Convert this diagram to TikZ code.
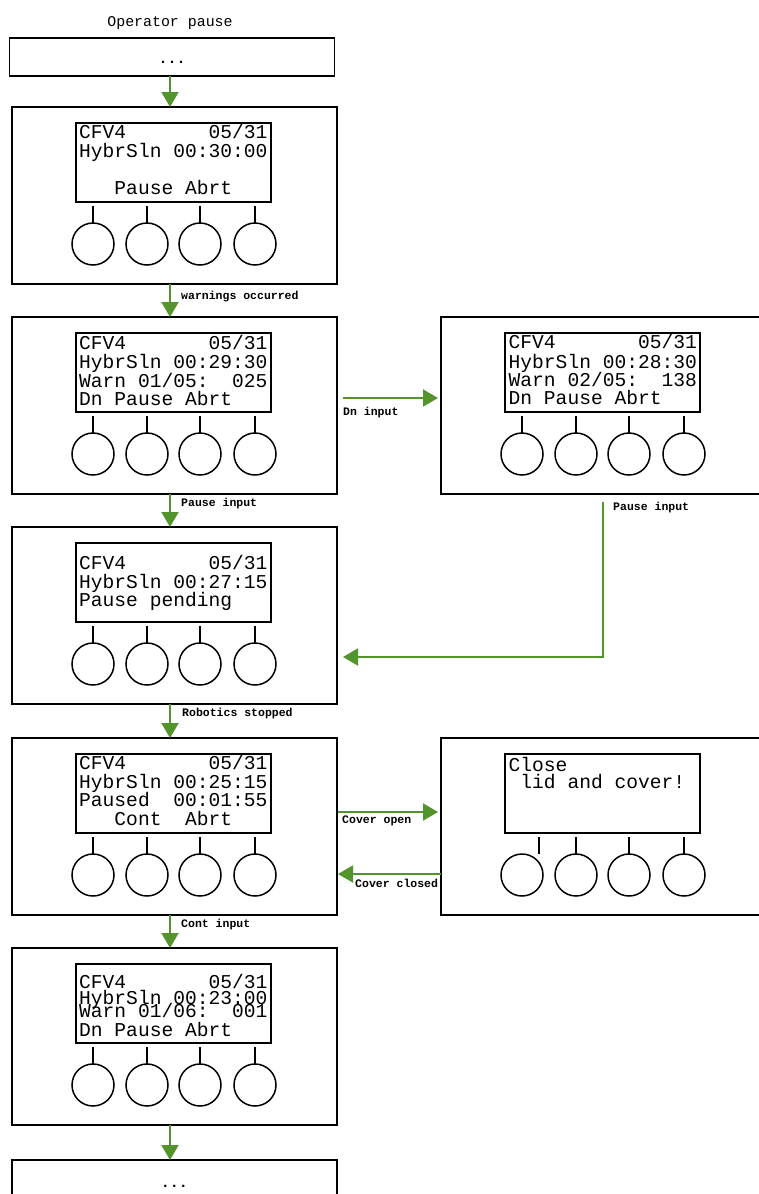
\documentclass[tikz,border=0pt]{standalone}
\usepackage{fontspec}
\setmonofont{Liberation Mono}
\usetikzlibrary{arrows.meta,calc,positioning}
\definecolor{flowgreen}{RGB}{84,148,44}

\begin{document}
\begin{tikzpicture}[x=1pt,y=-1pt,
  panel/.style={draw, line width=1.7pt, minimum width=325pt, minimum height=177pt, inner sep=0pt, outer sep=0pt, anchor=north west},
  endbox/.style={draw, line width=1.7pt, minimum width=325pt, minimum height=38pt, inner sep=0pt, outer sep=0pt, anchor=north west},
  lcd/.style={draw, line width=1.9pt, minimum width=195pt, minimum height=79pt, inner sep=0pt, outer sep=0pt, anchor=north west},
  button/.style={draw, circle, line width=1.5pt, minimum size=42pt, inner sep=0pt, outer sep=0pt},
  stem/.style={line width=1.5pt},
  lcdtext/.style={font=\ttfamily\fontsize{19.6}{19}\selectfont, inner sep=0pt, anchor=base west},
  flow/.style={draw=flowgreen, line width=2pt, -{Triangle[width=17pt,length=15pt]}},
  flowlabel/.style={font=\ttfamily\bfseries\fontsize{11.5}{12}\selectfont, inner sep=0pt, anchor=base west},
  dots/.style={font=\ttfamily\bfseries\fontsize{15}{15}\selectfont, inner sep=0pt}
]
\fill[white] (0,0) rectangle (759,1194);
\useasboundingbox (0,0) rectangle (759,1194);
\clip (0,0) rectangle (759,1194);

% title and the two open ends
\node[font=\ttfamily\fontsize{14.9}{15}\selectfont, inner sep=0pt, anchor=base] (title) at (170,26) {Operator pause};
\node[endbox] (top) at (9.5,38) {};
\node[dots] (top-dots) at ($(top.center)+(0,5)$) {...};
\node[endbox] (bottom) at (12,1160) {};
\node[dots] (bottom-dots) at ($(bottom.north)+(0,26)$) {...};

% panels: box, display, buttons
\foreach \pname/\px/\py/\sa in {p1/12/107/81, p2/12/317/81, q1/441/317/81, p3/12/527/81, p4/12/738/81, q2/441/738/98, p5/12/948/81} {
  \node[panel] (\pname) at (\px,\py) {};
  \node[lcd] (\pname-lcd) at ($(\pname.north west)+(64,16)$) {};
  \foreach \bx [count=\k] in {81,135,188,243}
    \node[button] (\pname-b\k) at ($(\pname.north west)+(\bx,137)$) {};
  \draw[stem] ($(\pname-b1.north)+({\sa-81},0)$) -- ++(0,-17);
  \foreach \k in {2,3,4}
    \draw[stem] (\pname-b\k.north) -- ++(0,-17);
}

% display texts
\node[lcdtext] (p1-t1) at ($(p1-lcd.north west)+(3,15)$) {CFV4~~~~~~~05/31};
\node[lcdtext] (p1-t2) at ($(p1-lcd.north west)+(3,34)$) {HybrSln~00:30:00};
\node[lcdtext] (p1-t4) at ($(p1-lcd.north west)+(3,71)$) {~~~Pause~Abrt};

\node[lcdtext] (p2-t1) at ($(p2-lcd.north west)+(3,16)$) {CFV4~~~~~~~05/31};
\node[lcdtext] (p2-t2) at ($(p2-lcd.north west)+(3,35.5)$) {HybrSln~00:29:30};
\node[lcdtext] (p2-t3) at ($(p2-lcd.north west)+(3,54)$) {Warn~01/05:~~025};
\node[lcdtext] (p2-t4) at ($(p2-lcd.north west)+(3,72.5)$) {Dn~Pause~Abrt};

\node[lcdtext] (q1-t1) at ($(q1-lcd.north west)+(3.5,15.5)$) {CFV4~~~~~~~05/31};
\node[lcdtext] (q1-t2) at ($(q1-lcd.north west)+(3.5,35)$) {HybrSln~00:28:30};
\node[lcdtext] (q1-t3) at ($(q1-lcd.north west)+(3.5,53.5)$) {Warn~02/05:~~138};
\node[lcdtext] (q1-t4) at ($(q1-lcd.north west)+(3.5,71.5)$) {Dn~Pause~Abrt};

\node[lcdtext] (p3-t1) at ($(p3-lcd.north west)+(3,26.5)$) {CFV4~~~~~~~05/31};
\node[lcdtext] (p3-t2) at ($(p3-lcd.north west)+(3,45.5)$) {HybrSln~00:27:15};
\node[lcdtext] (p3-t3) at ($(p3-lcd.north west)+(3,63.5)$) {Pause~pending};

\node[lcdtext] (p4-t1) at ($(p4-lcd.north west)+(3,15)$) {CFV4~~~~~~~05/31};
\node[lcdtext] (p4-t2) at ($(p4-lcd.north west)+(3,34)$) {HybrSln~00:25:15};
\node[lcdtext] (p4-t3) at ($(p4-lcd.north west)+(3,52)$) {Paused~~00:01:55};
\node[lcdtext] (p4-t4) at ($(p4-lcd.north west)+(3,71)$) {~~~Cont~~Abrt};

\node[lcdtext] (q2-t1) at ($(q2-lcd.north west)+(3.5,17)$) {Close};
\node[lcdtext] (q2-t2) at ($(q2-lcd.north west)+(3.5,34.5)$) {~lid~and~cover!};

\node[lcdtext] (p5-t1) at ($(p5-lcd.north west)+(3,24.5)$) {CFV4~~~~~~~05/31};
\node[lcdtext] (p5-t2) at ($(p5-lcd.north west)+(3,40.5)$) {HybrSln~00:23:00};
\node[lcdtext] (p5-t3) at ($(p5-lcd.north west)+(3,53)$) {Warn~01/06:~~001};
\node[lcdtext] (p5-t4) at ($(p5-lcd.north west)+(3,72)$) {Dn~Pause~Abrt};

% transitions
\draw[flow] ([xshift=-2pt]top.south) -- ([xshift=-4.5pt]p1.north);
\draw[flow] ([xshift=-4.5pt]p1.south) -- ([xshift=-4.5pt]p2.north);
\draw[flow] ([xshift=-4.5pt]p2.south) -- ([xshift=-4.5pt]p3.north);
\draw[flow] ([xshift=-4.5pt]p3.south) -- ([xshift=-4.5pt]p4.north);
\draw[flow] ([xshift=-4.5pt]p4.south) -- ([xshift=-4.5pt]p5.north);
\draw[flow] ([xshift=-4.5pt]p5.south) -- ([xshift=-4.5pt]bottom.north);
\draw[flow] ($(p2.north east)+(6,81)$) -- ($(q1.north west)+(-3,81)$);
\draw[flow] ($(q1.south west)+(162,8)$) |- ($(p3.north east)+(6,130)$);
\draw[flow] ($(p4.north east)+(1,74)$) -- ($(q2.north west)+(-3,74)$);
\draw[flow] ($(q2.north west)+(0,136)$) -- ($(p4.north east)+(1,136)$);

% transition labels
\node[flowlabel] (l-warn) at (181,299) {warnings occurred};
\node[flowlabel] (l-pause) at (181,506) {Pause input};
\node[flowlabel] (l-robot) at (182,716.5) {Robotics stopped};
\node[flowlabel] (l-cont) at (181,927.5) {Cont input};
\node[flowlabel] (l-dn) at (343,415.5) {Dn input};
\node[flowlabel] (l-pause2) at (613,510.5) {Pause input};
\node[flowlabel] (l-open) at (342,823.5) {Cover open};
\node[flowlabel] (l-closed) at (355,887.5) {Cover closed};
\end{tikzpicture}
\end{document}
